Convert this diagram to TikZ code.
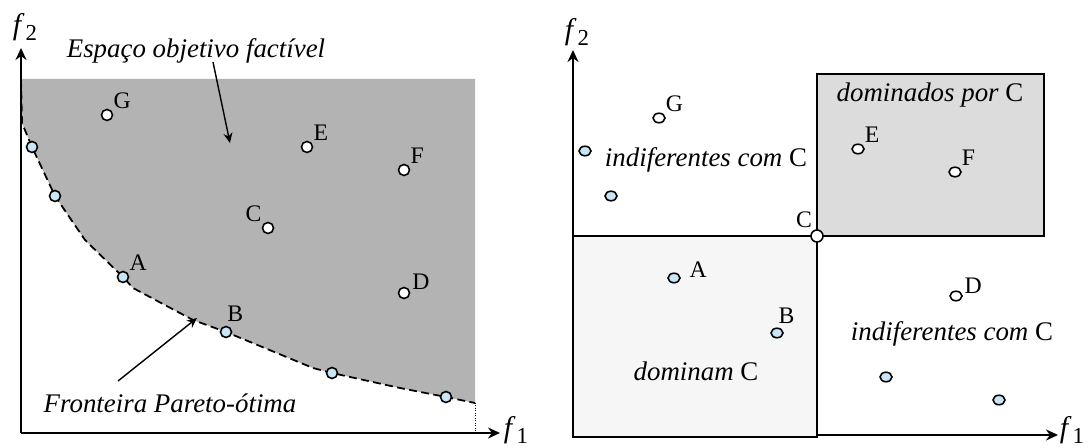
\documentclass[tikz,border=0pt]{standalone}
\usepackage{fontspec}
\setmainfont{Liberation Serif}
\usepackage{xcolor}
\usepackage{tikz}
\usetikzlibrary{arrows.meta,positioning,shapes.geometric}
\definecolor{feasc}{HTML}{B3B3B3}
\definecolor{domc}{HTML}{DCDCDC}
\definecolor{dominc}{HTML}{F6F6F6}
\definecolor{paretoc}{HTML}{C8E6F5}
\tikzset{
  axis/.style={-{Stealth[length=2.4mm,width=2.2mm]},line width=1pt},
  ar/.style={-{Stealth[length=2mm,width=1.8mm]},line width=0.8pt},
  pt/.style={circle,draw,line width=0.9pt,fill=white,minimum size=2.2mm,inner sep=0pt},
  ppt/.style={pt,fill=paretoc},
  ept/.style={ellipse,draw,line width=0.9pt,fill=white,minimum width=2.4mm,minimum height=1.9mm,inner sep=0pt},
  pept/.style={ept,fill=paretoc},
  lbl/.style={font=\fontsize{13.5}{15}\selectfont,inner sep=1pt},
  txt/.style={font=\fontsize{15.3}{18}\selectfont\itshape,inner sep=0pt},
  axl/.style={font=\fontsize{17}{20}\selectfont,inner sep=0pt}
}
\newcommand{\fsub}[1]{\textit{f}\kern0.5pt\raisebox{-0.45ex}{\fontsize{13}{15}\selectfont #1}}
\begin{document}
\begin{tikzpicture}[x=0.02cm,y=-0.02cm]
\useasboundingbox (0,0) rectangle (1089,448);
% left: feasible objective space
\fill[feasc] (21,79) -- (475,79) -- (475,403) -- (446,397) -- (400,388) -- (332,373) -- (313,368)
  -- (226,332) -- (193,320) -- (133,288) -- (123,277) -- (85,240) -- (55,196) -- (32,147) -- (22,123) -- cycle;
\draw[gray!60,dashed] (21,79) -- (475,79);
\draw[densely dotted] (475,403) -- (475,433);
\draw[dash pattern=on 4.5pt off 2.5pt,line width=1pt] (21,79) -- (22,123) -- (32,147) -- (55,196) -- (85,240) -- (123,277) -- (133,288)
  -- (193,320) -- (226,332) -- (313,368) -- (332,373) -- (400,388) -- (446,397) -- (475,403);
\coordinate (o1) at (21,433);
\coordinate (y1) at (21,48);
\coordinate (x1) at (500,433);
\draw[axis] (o1) -- (y1);
\draw[axis] (o1) -- (x1);
\node[axl] (f2a) at (25,27) {\fsub{2}};
\node[axl] (f1a) at (516,430) {\fsub{1}};
\node[ppt] (p1) at (32,147) {};
\node[ppt] (p2) at (55,196) {};
\node[ppt] (A1) at (123,277) {};
\node[ppt] (B1) at (226,332) {};
\node[ppt] (p3) at (332,373) {};
\node[ppt] (p4) at (446,397) {};
\node[pt] (G1) at (107,115) {};
\node[pt] (E1) at (307,147) {};
\node[pt] (F1) at (404,170) {};
\node[pt] (C1) at (268,228) {};
\node[pt] (D1) at (404,293) {};
\node[lbl,above right=0pt of G1] (lG1) {G};
\node[lbl,above right=0pt of E1] (lE1) {E};
\node[lbl,above right=0pt of F1] (lF1) {F};
\node[lbl,above left=0pt of C1] (lC1) {C};
\node[lbl,above right=-2pt and 1pt of D1] (lD1) {D};
\node[lbl,above right=0pt of A1] (lA1) {A};
\node[lbl,above right=2pt and -3pt of B1] (lB1) {B};
\node[txt] (esp) at (196,51) {Espaço objetivo factível};
\coordinate (espend) at (230,143);
\draw[ar] (213,62) -- (espend);
\node[txt] (fro) at (170,403) {Fronteira Pareto-ótima};
\coordinate (froend) at (197,318);
\draw[ar] (118,381) -- (froend);
% right: dominance with respect to C
\draw[line width=1pt,fill=dominc] (573,236) rectangle (817,437);
\draw[line width=1pt,fill=domc] (817,74) rectangle (1044,236);
\coordinate (o2) at (573,437);
\coordinate (y2) at (573,50);
\coordinate (x2) at (1058,435);
\draw[axis] (o2) -- (y2);
\draw[axis] (817,435) -- (x2);
\node[axl] (f2b) at (577,32) {\fsub{2}};
\node[axl] (f1b) at (1072,430) {\fsub{1}};
\node[pept] (q1) at (585,151) {};
\node[pept] (q2) at (611,196) {};
\node[pept] (A2) at (674,278) {};
\node[pept] (B2) at (777,333) {};
\node[pept] (q3) at (886,377) {};
\node[pept] (q4) at (999,400) {};
\node[ept] (G2) at (659,118) {};
\node[ept] (E2) at (858,149) {};
\node[ept] (F2) at (955,172) {};
\node[ept] (D2) at (956,296) {};
\node[pt,minimum size=2.4mm] (C2) at (817,236) {};
\node[lbl,above right=0pt of G2] (lG2) {G};
\node[lbl,above right=0pt of E2] (lE2) {E};
\node[lbl,above right=0pt of F2] (lF2) {F};
\node[lbl,above right=-2pt and 1pt of D2] (lD2) {D};
\node[lbl,above left=1pt and -1pt of C2] (lC2) {C};
\node[lbl,above right=-3pt and 5pt of A2] (lA2) {A};
\node[lbl,above right=2pt and -3pt of B2] (lB2) {B};
\node[txt] (ind1) at (706,160) {indiferentes com \upshape C};
\node[txt] (dom) at (930,95) {dominados por \upshape C};
\node[txt] (domi) at (696,371) {dominam \upshape C};
\node[txt] (ind2) at (952,334) {indiferentes com \upshape C};
\end{tikzpicture}
\end{document}
